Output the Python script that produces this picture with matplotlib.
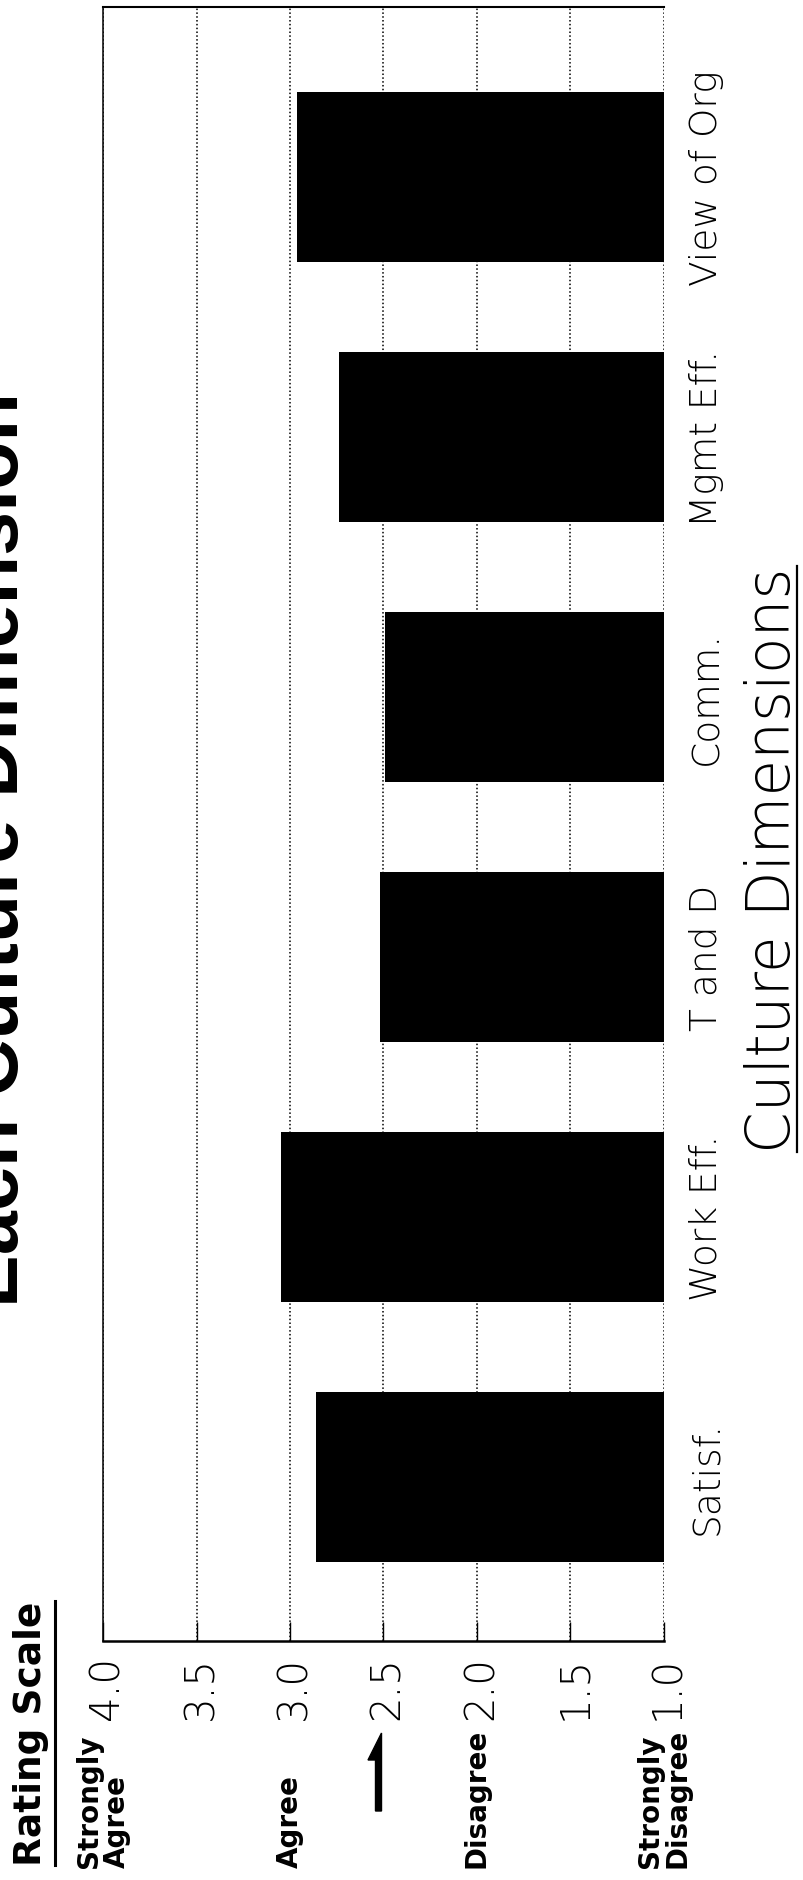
import matplotlib
matplotlib.use("Agg")
import matplotlib.pyplot as plt
from matplotlib import transforms
from matplotlib.lines import Line2D
from matplotlib.patches import FancyArrow

plt.rcParams["font.family"] = ["DejaVu Sans"]

# mean rating per culture dimension (bottom to top of the page)
dimensions = ["Satisf.", "Work Eff.", "T and D", "Comm.", "Mgmt Eff.", "View of Org"]
mean_rating = [2.86, 3.05, 2.52, 2.49, 2.74, 2.96]

scale_ticks = [4.0, 3.5, 3.0, 2.5, 2.0, 1.5, 1.0]
scale_labels = ["4.0", "3.5", "3.0", "2.5", "2.0", "1.5", "1.0"]
scale_word_values = [4.0, 3.0, 2.0, 1.0]
scale_words = ["Strongly\nAgree", "Agree", "Disagree", "Strongly\nDisagree"]
neutral_point = 2.5

W, H = 804, 1881
fig = plt.figure(figsize=(W / 100, H / 100), dpi=100)


def fx(px):
    return px / W


def fy(py):
    # pixel rows counted from the top of the page
    return 1 - py / H


ax = fig.add_axes([fx(103), fy(1642), fx(664) - fx(103), fy(8) - fy(1642)])

pos = list(range(len(dimensions)))
ax.barh(pos, [v - 1 for v in mean_rating], left=1, height=0.654,
        color="black", zorder=2)
ax.set_xlim(4, 1)
ax.set_ylim(-0.63, 5.654)

# rating scale runs along the bottom, labels turned sideways
ax.set_xticks(scale_ticks)
ax.set_xticklabels(scale_labels, rotation=90, fontsize=29, fontweight="light",
                   rotation_mode="anchor", ha="right", va="center_baseline")
ax.tick_params(axis="x", direction="in", length=14, width=1.0, pad=10)
ax.grid(axis="x", color="black", linestyle=(0, (1, 1.5)), linewidth=1.1)
ax.set_axisbelow(True)

ax.yaxis.tick_right()
ax.set_yticks(pos)
ax.set_yticklabels(dimensions, rotation=90, fontsize=27, fontweight="light",
                   ha="left", va="center")
ax.tick_params(axis="y", length=0, pad=18)

ax.spines["right"].set_visible(False)
ax.spines["bottom"].set_linewidth(1.8)
ax.spines["top"].set_linewidth(1.5)
ax.spines["left"].set_linewidth(1.1)

# verbal anchors of the scale, lined up with their ticks
word_tr = transforms.blended_transform_factory(ax.transData, fig.transFigure)
for v, w in zip(scale_word_values, scale_words):
    fig.text(v, fy(1868), w, transform=word_tr, rotation=90, rotation_mode="anchor",
             ha="left", va="center", fontsize=20, fontweight="bold",
             linespacing=1.0, multialignment="left")

# arrow pointing at the scale midpoint
mid_px = ax.transData.transform((neutral_point, 0))[0]
arrow = FancyArrow((mid_px - 2) / 100, (H - 1812) / 100, 0, 0.78,
                   width=0.12, head_width=0.27, head_length=0.27, shape="right",
                   length_includes_head=True, color="black",
                   transform=fig.dpi_scale_trans)
fig.add_artist(arrow)

# headings
t_scale = fig.text(fx(41), fy(1866), "Rating Scale", rotation=90, rotation_mode="anchor",
                   ha="left", va="baseline", fontsize=27, fontweight="bold")
t_dims = fig.text(fx(790), fy(860), "Culture Dimensions", rotation=90,
                  rotation_mode="anchor", ha="center", va="baseline", fontsize=43,
                  fontweight="light")
fig.text(fx(18), fy(850), "Each Culture Dimension", rotation=90, rotation_mode="anchor",
         ha="center", va="baseline", fontsize=57, fontweight="bold",
         family="Liberation Sans")

# underline the two headings
renderer = fig.canvas.get_renderer()
for t, x_px, lw in [(t_scale, 55, 2.2), (t_dims, 797, 1.6)]:
    bb = t.get_window_extent(renderer)
    fig.add_artist(Line2D([fx(x_px), fx(x_px)], [bb.y0 / H, bb.y1 / H],
                          transform=fig.transFigure, color="black", linewidth=lw))

fig.savefig("out.png", dpi=100)
